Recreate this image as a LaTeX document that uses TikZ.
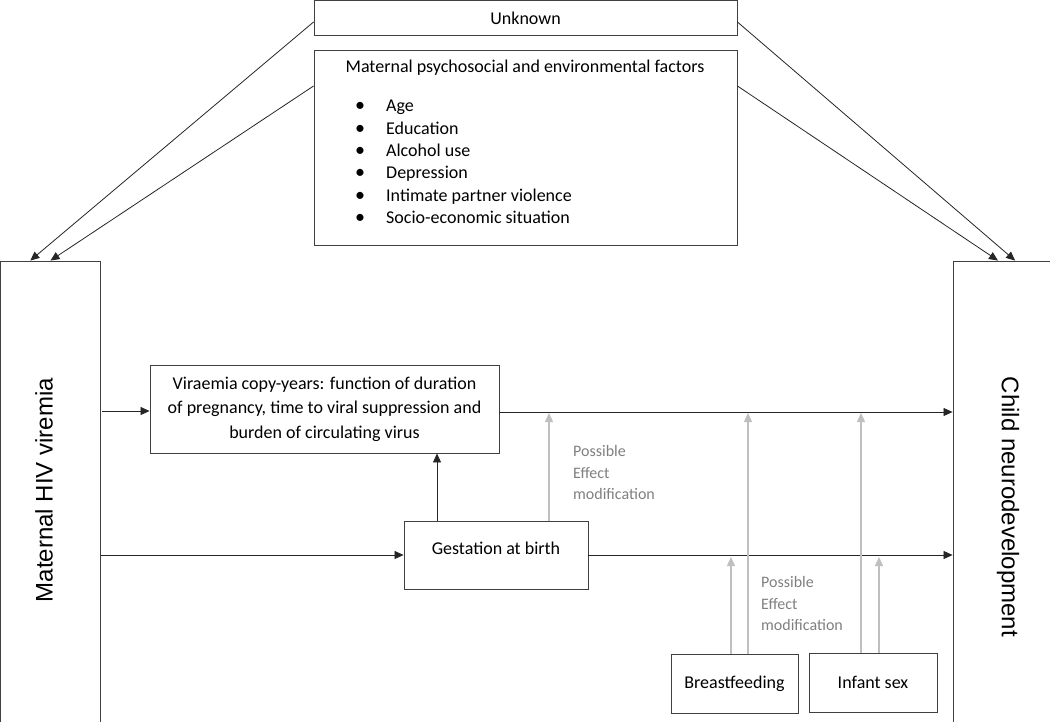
\documentclass[tikz,border=0pt]{standalone}
\usepackage{fontspec}
\setmainfont{Carlito}
\newfontfamily\arialf{Liberation Sans}
\usetikzlibrary{arrows.meta,calc}
\definecolor{boxline}{HTML}{404040}
\definecolor{gline}{HTML}{BFBFBF}
\definecolor{gtext}{HTML}{808080}
\tikzset{
  box/.style={draw=boxline, line width=0.9pt, rectangle, inner sep=0pt},
  txt/.style={font=\fontsize{18}{24.5}\selectfont, inner sep=0pt},
  bigtxt/.style={font=\arialf\fontsize{24}{28}\selectfont, inner sep=0pt},
  gtxt/.style={font=\fontsize{16}{21.7}\selectfont, text=gtext, align=left, inner sep=0pt, anchor=north west},
  arr/.style={draw=black!85, line width=0.8pt, -{Triangle[length=9pt,width=8pt]}},
  garr/.style={draw=gline, line width=1.4pt, -{Triangle[length=9pt,width=8pt]}},
}
\begin{document}
\begin{tikzpicture}[x=1pt,y=-1pt]
\useasboundingbox (0,0) rectangle (1050,721);
\fill[white] (0,0) rectangle (1050,721);
% boxes
\node[box, minimum width=423pt, minimum height=35pt] (unk) at (525.5,17.5) {};
\node[txt] (unkt) at (525.5,18) {Unknown};
\node[box, minimum width=423pt, minimum height=195pt] (fac) at (525.5,147.5) {};
\node[txt] (fact) at (525,68) {Maternal psychosocial and environmental factors};
\foreach \i/\t/\y in {1/Age/111,2/Education/134,3/Alcohol use/156,4/Depression/178,5/Intimate partner violence/201,6/Socio-economic situation/223}{
  \node[txt, anchor=base, font=\fontsize{20}{24}\selectfont] (b\i) at (360,\y) {•};
  \node[txt, anchor=base west] (l\i) at (386,\y) {\t};
}
\node[box, minimum width=100pt, minimum height=464pt] (mhv) at (50.5,493) {};
\node[bigtxt, rotate=90] (mhvt) at (44,490) {Maternal HIV viremia};
\node[box, minimum width=100pt, minimum height=464pt] (cnd) at (1003,493) {};
\node[bigtxt, rotate=-90] (cndt) at (1008,507) {Child neurodevelopment};
\node[box, minimum width=349pt, minimum height=88pt, txt, align=center] (vir) at (324.5,409)
  {Viraemia copy-years: function of duration\\of pregnancy, time to viral suppression and\\burden of circulating virus};
\node[box, minimum width=184pt, minimum height=68pt] (gest) at (496,555) {};
\node[txt] (gestt) at (496,548) {Gestation at birth};
\node[box, minimum width=127pt, minimum height=59pt, txt] (bf) at (734.5,683.5) {Breastfeeding};
\node[box, minimum width=128pt, minimum height=59pt, txt] (inf) at (873,682.5) {Infant sex};
% gray labels
\node[gtxt] (pem1) at (573,445) {Possible\\Effect\\modification};
\node[gtxt] (pem2) at (761,576) {Possible\\Effect\\modification};
% confounder arrows
\draw[arr] (unk.west |- 0,22) -- ($(mhv.north west)!0.3!(mhv.north east)$);
\draw[arr] (fac.west |- 0,86) -- (mhv.north);
\draw[arr] (unk.east |- 0,22) -- ($(cnd.north west)!0.62!(cnd.north east)$);
\draw[arr] (fac.east |- 0,86) -- ($(cnd.north west)!0.45!(cnd.north east)$);
% main paths
\coordinate (a1) at (102,411);
\draw[arr] (a1) -- (vir.west |- a1);
\draw[arr] (mhv.east |- gest.west) -- (gest.west);
\draw[arr] (vir.east |- 0,412) -- (cnd.west |- 0,412);
\draw[arr] (gest.east) -- (cnd.west |- gest.east);
\draw[arr] (gest.north -| 437,0) -- (vir.south -| 437,0);
% effect modification arrows
\coordinate (t1) at (549,413);
\coordinate (t2) at (748,413);
\coordinate (t3) at (861,413);
\coordinate (t4) at (731,557);
\coordinate (t5) at (879,557);
\draw[garr] (gest.north -| t1) -- (t1);
\draw[garr] (bf.north -| t2) -- (t2);
\draw[garr] (inf.north -| t3) -- (t3);
\draw[garr] (bf.north -| t4) -- (t4);
\draw[garr] (inf.north -| t5) -- (t5);
\end{tikzpicture}
\end{document}
